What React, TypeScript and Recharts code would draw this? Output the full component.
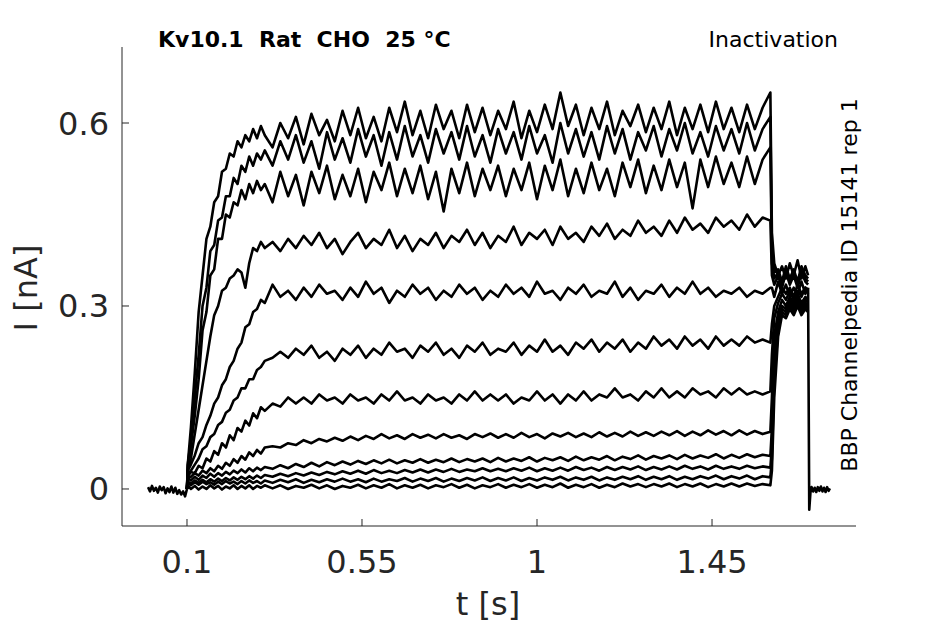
import { LineChart, Line, XAxis, YAxis } from 'recharts';

// time grid of the voltage step (s)
const T_STEP = [
  0.1, 0.102, 0.11, 0.12, 0.13, 0.14, 0.15, 0.16, 0.17, 0.18, 0.19, 0.2, 0.21, 0.22, 0.23, 0.24, 0.25, 0.26, 0.27, 0.28, 0.29, 0.3,
  0.32, 0.34, 0.36, 0.38, 0.4, 0.42, 0.44, 0.46, 0.48, 0.5,
  0.52, 0.54, 0.56, 0.58, 0.6, 0.62, 0.64, 0.66, 0.68, 0.7,
  0.72, 0.74, 0.76, 0.78, 0.8, 0.82, 0.84, 0.86, 0.88, 0.9,
  0.92, 0.94, 0.96, 0.98, 1, 1.02, 1.04, 1.06, 1.08, 1.1,
  1.12, 1.14, 1.16, 1.18, 1.2, 1.22, 1.24, 1.26, 1.28, 1.3,
  1.32, 1.34, 1.36, 1.38, 1.4, 1.42, 1.44, 1.46, 1.48, 1.5,
  1.52, 1.54, 1.56, 1.58, 1.6,
  1.604, 1.61, 1.62, 1.63, 1.64, 1.65, 1.66, 1.67, 1.68, 1.69, 1.697,
];

// holding baseline before the step
const T_PRE = [0, 0.005, 0.01, 0.015, 0.02, 0.025, 0.03, 0.035, 0.04, 0.045, 0.05, 0.055, 0.06, 0.065, 0.07, 0.075, 0.08, 0.085, 0.09, 0.095, 0.1];
const I_PRE = [0.003, -0.004, 0.005, -0.003, 0.002, -0.006, 0.004, -0.002, 0.003, -0.007, 0.001, -0.005, 0.004, -0.006, 0.002, -0.008, -0.002, -0.009, -0.004, -0.012, 0.0];

// after the tail pulse
const T_POST = [1.697, 1.7, 1.703, 1.706, 1.71, 1.714, 1.718, 1.722, 1.726, 1.73, 1.734, 1.738, 1.742, 1.746, 1.75, 1.753];
const I_POST = [0.33, -0.034, -0.006, 0.003, -0.004, 0.002, -0.005, 0.003, -0.003, 0.004, -0.004, 0.002, -0.005, 0.003, -0.003, 0.001];

// currents (nA), one array per sweep, same length as T_STEP
const TRACE_1 = [
  0.0, 0.04, 0.10, 0.19, 0.29, 0.35, 0.41, 0.43, 0.47, 0.48, 0.52, 0.525, 0.55, 0.545, 0.57, 0.56, 0.58, 0.57, 0.59, 0.575, 0.595, 0.58,
  0.56, 0.60, 0.575, 0.61, 0.565, 0.615, 0.58, 0.605, 0.57, 0.62,
  0.58, 0.625, 0.575, 0.61, 0.57, 0.625, 0.585, 0.635, 0.58, 0.62,
  0.575, 0.63, 0.59, 0.62, 0.575, 0.63, 0.585, 0.625, 0.58, 0.62,
  0.59, 0.635, 0.575, 0.62, 0.585, 0.63, 0.59, 0.65, 0.595, 0.63,
  0.58, 0.625, 0.59, 0.635, 0.58, 0.62, 0.595, 0.63, 0.585, 0.625,
  0.59, 0.635, 0.58, 0.625, 0.59, 0.63, 0.585, 0.635, 0.59, 0.625,
  0.585, 0.63, 0.59, 0.625, 0.65,
  0.42, 0.37, 0.35, 0.365, 0.345, 0.37, 0.35, 0.375, 0.345, 0.365, 0.35,
];
const TRACE_2 = [
  0.0, 0.04, 0.08, 0.15, 0.22, 0.30, 0.33, 0.39, 0.40, 0.44, 0.445, 0.48, 0.48, 0.51, 0.50, 0.53, 0.52, 0.545, 0.53, 0.55, 0.54, 0.555,
  0.53, 0.57, 0.54, 0.58, 0.535, 0.57, 0.525, 0.585, 0.54, 0.575,
  0.535, 0.59, 0.545, 0.58, 0.53, 0.585, 0.54, 0.595, 0.545, 0.58,
  0.535, 0.59, 0.55, 0.585, 0.54, 0.595, 0.545, 0.58, 0.535, 0.59,
  0.55, 0.585, 0.54, 0.595, 0.55, 0.58, 0.535, 0.6, 0.55, 0.59,
  0.545, 0.585, 0.54, 0.595, 0.55, 0.59, 0.54, 0.585, 0.555, 0.595,
  0.545, 0.59, 0.555, 0.6, 0.55, 0.585, 0.545, 0.595, 0.555, 0.59,
  0.55, 0.6, 0.555, 0.59, 0.61,
  0.39, 0.355, 0.36, 0.34, 0.365, 0.345, 0.36, 0.34, 0.365, 0.35, 0.345,
];
const TRACE_3 = [
  0.0, 0.035, 0.07, 0.12, 0.18, 0.26, 0.29, 0.35, 0.36, 0.41, 0.41, 0.45, 0.445, 0.47, 0.465, 0.49, 0.475, 0.5, 0.485, 0.505, 0.49, 0.5,
  0.47, 0.52, 0.48, 0.515, 0.465, 0.52, 0.485, 0.53, 0.475, 0.515,
  0.48, 0.525, 0.47, 0.52, 0.49, 0.535, 0.48, 0.525, 0.485, 0.53,
  0.475, 0.52, 0.455, 0.525, 0.485, 0.535, 0.48, 0.525, 0.49, 0.53,
  0.48, 0.525, 0.49, 0.535, 0.475, 0.53, 0.49, 0.54, 0.48, 0.525,
  0.485, 0.535, 0.49, 0.525, 0.48, 0.535, 0.495, 0.54, 0.485, 0.53,
  0.49, 0.54, 0.495, 0.535, 0.46, 0.54, 0.495, 0.545, 0.5, 0.535,
  0.495, 0.545, 0.5, 0.54, 0.56,
  0.37, 0.345, 0.355, 0.335, 0.36, 0.34, 0.355, 0.335, 0.36, 0.345, 0.34,
];
const TRACE_4 = [
  0.0, 0.03, 0.05, 0.09, 0.13, 0.17, 0.21, 0.25, 0.285, 0.30, 0.325, 0.33, 0.345, 0.35, 0.36, 0.355, 0.33, 0.37, 0.395, 0.39, 0.405, 0.395,
  0.405, 0.39, 0.41, 0.395, 0.415, 0.40, 0.42, 0.395, 0.41, 0.385,
  0.405, 0.42, 0.395, 0.41, 0.4, 0.425, 0.395, 0.415, 0.39, 0.41,
  0.4, 0.42, 0.395, 0.415, 0.405, 0.425, 0.4, 0.42, 0.395, 0.415,
  0.405, 0.43, 0.4, 0.42, 0.41, 0.425, 0.4, 0.43, 0.41, 0.42,
  0.405, 0.43, 0.415, 0.435, 0.41, 0.425, 0.415, 0.44, 0.42, 0.43,
  0.415, 0.44, 0.42, 0.445, 0.425, 0.435, 0.42, 0.445, 0.43, 0.44,
  0.425, 0.45, 0.43, 0.445, 0.44,
  0.35, 0.335, 0.35, 0.33, 0.355, 0.335, 0.35, 0.33, 0.355, 0.34, 0.335,
];
const TRACE_5 = [
  0.0, 0.03, 0.04, 0.055, 0.075, 0.085, 0.105, 0.12, 0.14, 0.15, 0.17, 0.18, 0.2, 0.21, 0.23, 0.24, 0.265, 0.27, 0.29, 0.295, 0.31, 0.305,
  0.335, 0.315, 0.325, 0.31, 0.33, 0.315, 0.335, 0.32, 0.325, 0.31,
  0.33, 0.315, 0.34, 0.32, 0.33, 0.305, 0.325, 0.315, 0.335, 0.32,
  0.33, 0.31, 0.325, 0.315, 0.335, 0.32, 0.33, 0.31, 0.325, 0.315,
  0.335, 0.32, 0.33, 0.315, 0.34, 0.32, 0.325, 0.31, 0.33, 0.32,
  0.335, 0.315, 0.325, 0.32, 0.34, 0.315, 0.33, 0.31, 0.325, 0.32,
  0.335, 0.315, 0.33, 0.32, 0.34, 0.32, 0.33, 0.315, 0.325, 0.32,
  0.33, 0.315, 0.325, 0.32, 0.33,
  0.33, 0.315, 0.34, 0.32, 0.335, 0.315, 0.33, 0.32, 0.34, 0.32, 0.33,
];
const TRACE_6 = [
  0.0, 0.025, 0.03, 0.04, 0.05, 0.065, 0.07, 0.085, 0.09, 0.105, 0.11, 0.125, 0.13, 0.145, 0.15, 0.165, 0.165, 0.18, 0.18, 0.195, 0.2, 0.21,
  0.215, 0.225, 0.215, 0.23, 0.22, 0.235, 0.215, 0.225, 0.21, 0.23,
  0.22, 0.235, 0.215, 0.23, 0.22, 0.24, 0.225, 0.23, 0.215, 0.235,
  0.225, 0.24, 0.22, 0.23, 0.215, 0.235, 0.225, 0.24, 0.22, 0.23,
  0.225, 0.24, 0.22, 0.235, 0.225, 0.245, 0.225, 0.235, 0.22, 0.24,
  0.23, 0.245, 0.225, 0.24, 0.23, 0.245, 0.225, 0.24, 0.23, 0.25,
  0.235, 0.245, 0.23, 0.25, 0.235, 0.245, 0.23, 0.25, 0.235, 0.245,
  0.235, 0.25, 0.24, 0.245, 0.24,
  0.27, 0.3, 0.315, 0.33, 0.32, 0.33, 0.315, 0.335, 0.32, 0.33, 0.325,
];
const TRACE_7 = [
  0.0, 0.02, 0.028, 0.026, 0.038, 0.034, 0.05, 0.045, 0.062, 0.056, 0.075, 0.068, 0.088, 0.08, 0.1, 0.094, 0.112, 0.104, 0.124, 0.116, 0.134, 0.128,
  0.14, 0.135, 0.15, 0.14, 0.15, 0.14, 0.155, 0.145, 0.15, 0.14,
  0.155, 0.145, 0.15, 0.14, 0.155, 0.145, 0.16, 0.145, 0.15, 0.14,
  0.155, 0.145, 0.15, 0.14, 0.155, 0.145, 0.16, 0.145, 0.155, 0.145,
  0.155, 0.14, 0.15, 0.145, 0.16, 0.145, 0.155, 0.14, 0.155, 0.145,
  0.16, 0.145, 0.155, 0.15, 0.165, 0.15, 0.155, 0.145, 0.16, 0.15,
  0.165, 0.15, 0.16, 0.15, 0.165, 0.155, 0.16, 0.15, 0.165, 0.155,
  0.165, 0.155, 0.16, 0.155, 0.16,
  0.22, 0.28, 0.305, 0.32, 0.31, 0.325, 0.31, 0.325, 0.315, 0.33, 0.32,
];
const TRACE_8 = [
  0.0, 0.018, 0.02, 0.026, 0.022, 0.03, 0.026, 0.034, 0.029, 0.038, 0.033, 0.043, 0.038, 0.049, 0.043, 0.054, 0.048, 0.06, 0.054, 0.064, 0.058, 0.068,
  0.07, 0.068, 0.075, 0.072, 0.08, 0.075, 0.082, 0.078, 0.084, 0.079,
  0.086, 0.08, 0.087, 0.082, 0.09, 0.083, 0.088, 0.082, 0.09, 0.084,
  0.089, 0.083, 0.09, 0.084, 0.088, 0.082, 0.09, 0.085, 0.091, 0.084,
  0.09, 0.084, 0.092, 0.085, 0.09, 0.083, 0.091, 0.086, 0.092, 0.085,
  0.091, 0.085, 0.093, 0.086, 0.092, 0.086, 0.094, 0.087, 0.093, 0.087,
  0.094, 0.088, 0.095, 0.087, 0.094, 0.088, 0.096, 0.089, 0.095, 0.088,
  0.096, 0.089, 0.095, 0.09, 0.094,
  0.15, 0.25, 0.29, 0.31, 0.3, 0.315, 0.305, 0.32, 0.305, 0.315, 0.31,
];
const TRACE_9 = [
  0.0, 0.018, 0.014, 0.02, 0.015, 0.022, 0.018, 0.025, 0.02, 0.026, 0.022, 0.028, 0.024, 0.03, 0.026, 0.032, 0.027, 0.034, 0.029, 0.035, 0.031, 0.036,
  0.033, 0.039, 0.034, 0.041, 0.036, 0.043, 0.037, 0.044, 0.039, 0.045,
  0.04, 0.046, 0.041, 0.047, 0.042, 0.048, 0.042, 0.047, 0.043, 0.049,
  0.043, 0.048, 0.044, 0.05, 0.044, 0.049, 0.045, 0.05, 0.044, 0.051,
  0.045, 0.05, 0.046, 0.052, 0.045, 0.051, 0.047, 0.052, 0.046, 0.053,
  0.047, 0.052, 0.048, 0.054, 0.047, 0.053, 0.049, 0.055, 0.048, 0.054,
  0.05, 0.055, 0.049, 0.056, 0.05, 0.055, 0.051, 0.057, 0.05, 0.056,
  0.051, 0.057, 0.052, 0.056, 0.054,
  0.1, 0.22, 0.28, 0.3, 0.295, 0.31, 0.3, 0.315, 0.3, 0.31, 0.305,
];
const TRACE_10 = [
  0.0, 0.012, 0.009, 0.014, 0.01, 0.015, 0.011, 0.016, 0.012, 0.017, 0.013, 0.018, 0.014, 0.019, 0.015, 0.02, 0.016, 0.021, 0.017, 0.022, 0.018, 0.023,
  0.02, 0.025, 0.021, 0.026, 0.022, 0.027, 0.023, 0.028, 0.024, 0.029,
  0.025, 0.03, 0.025, 0.031, 0.026, 0.03, 0.026, 0.031, 0.027, 0.032,
  0.027, 0.032, 0.028, 0.033, 0.028, 0.032, 0.029, 0.034, 0.029, 0.033,
  0.029, 0.034, 0.03, 0.035, 0.029, 0.034, 0.03, 0.035, 0.03, 0.036,
  0.031, 0.035, 0.03, 0.036, 0.031, 0.036, 0.032, 0.037, 0.031, 0.036,
  0.032, 0.037, 0.032, 0.038, 0.033, 0.037, 0.032, 0.038, 0.033, 0.037,
  0.033, 0.038, 0.034, 0.037, 0.035,
  0.07, 0.2, 0.27, 0.295, 0.29, 0.305, 0.295, 0.31, 0.295, 0.305, 0.3,
];
const TRACE_11 = [
  0.0, 0.01, 0.006, 0.011, 0.007, 0.012, 0.008, 0.011, 0.007, 0.012, 0.008, 0.013, 0.009, 0.012, 0.008, 0.013, 0.009, 0.014, 0.01, 0.013, 0.009, 0.014,
  0.01, 0.015, 0.011, 0.016, 0.01, 0.015, 0.011, 0.016, 0.012, 0.017,
  0.012, 0.016, 0.011, 0.017, 0.012, 0.016, 0.013, 0.018, 0.012, 0.017,
  0.013, 0.018, 0.012, 0.017, 0.013, 0.018, 0.014, 0.019, 0.013, 0.018,
  0.014, 0.019, 0.013, 0.018, 0.014, 0.019, 0.015, 0.02, 0.014, 0.019,
  0.015, 0.02, 0.014, 0.019, 0.015, 0.02, 0.016, 0.021, 0.015, 0.02,
  0.016, 0.021, 0.015, 0.02, 0.016, 0.021, 0.017, 0.022, 0.016, 0.021,
  0.017, 0.022, 0.016, 0.021, 0.019,
  0.05, 0.18, 0.26, 0.29, 0.285, 0.3, 0.29, 0.305, 0.29, 0.3, 0.295,
];
const TRACE_12 = [
  0.0, 0.006, 0.0, 0.005, -0.001, 0.004, 0.0, 0.006, 0.001, 0.005, -0.001, 0.004, 0.001, 0.006, 0.0, 0.005, 0.001, 0.006, 0.0, 0.005, 0.002, 0.006,
  0.001, 0.006, 0.0, 0.005, 0.002, 0.007, 0.001, 0.006, 0.0, 0.005,
  0.002, 0.007, 0.001, 0.006, 0.002, 0.008, 0.001, 0.006, 0.002, 0.007,
  0.001, 0.006, 0.003, 0.008, 0.002, 0.007, 0.001, 0.006, 0.003, 0.008,
  0.002, 0.007, 0.003, 0.008, 0.002, 0.007, 0.003, 0.009, 0.002, 0.007,
  0.003, 0.008, 0.002, 0.007, 0.003, 0.009, 0.004, 0.008, 0.003, 0.008,
  0.004, 0.009, 0.003, 0.008, 0.004, 0.009, 0.003, 0.008, 0.004, 0.009,
  0.004, 0.009, 0.005, 0.008, 0.006,
  0.03, 0.15, 0.25, 0.285, 0.28, 0.295, 0.285, 0.3, 0.285, 0.295, 0.29,
];

const TRACES = [TRACE_1, TRACE_2, TRACE_3, TRACE_4, TRACE_5, TRACE_6, TRACE_7, TRACE_8, TRACE_9, TRACE_10, TRACE_11, TRACE_12];

const X_TICKS = [0.1, 0.55, 1, 1.45];
const X_TICK_LABELS = ['0.1', '0.55', '1', '1.45'];
const Y_TICKS = [0, 0.3, 0.6];
const Y_TICK_LABELS = ['0', '0.3', '0.6'];

const FONT = '"DejaVu Sans", sans-serif';
const AXIS = '#262626';

const toPoints = (ts: number[], vs: number[]) => ts.map((t, i) => ({ t, v: vs[i] }));

function XTick({ x, y, payload }: any) {
  const i = X_TICKS.indexOf(payload.value);
  return (
    <g>
      <line x1={x} y1={y} x2={x} y2={y - 7} stroke={AXIS} />
      <text x={x} y={y + 47} textAnchor="middle" fontSize={32} fontFamily={FONT} fill={AXIS}>
        {i >= 0 ? X_TICK_LABELS[i] : payload.value}
      </text>
    </g>
  );
}

function YTick({ x, y, payload }: any) {
  const i = Y_TICKS.indexOf(payload.value);
  return (
    <g>
      <line x1={x} y1={y} x2={x + 7} y2={y} stroke={AXIS} />
      <text x={x - 13} y={y + 11.5} textAnchor="end" fontSize={32} fontFamily={FONT} fill={AXIS}>
        {i >= 0 ? Y_TICK_LABELS[i] : payload.value}
      </text>
    </g>
  );
}

export default function App() {
  const line = {
    type: 'linear' as const,
    dataKey: 'v',
    stroke: '#000',
    strokeWidth: 2.6,
    strokeLinejoin: 'round' as const,
    dot: false,
    isAnimationActive: false,
  };
  return (
    <div style={{ position: 'absolute', left: 0, top: 0, width: 945, height: 624, background: '#fff' }}>
      <LineChart width={945} height={624} margin={{ top: 47, right: 89, bottom: 58, left: 62 }}>
        <XAxis
          dataKey="t"
          type="number"
          domain={[-0.0671, 1.8202]}
          allowDataOverflow
          ticks={X_TICKS}
          interval={0}
          height={40}
          tickSize={0}
          tickMargin={0}
          tick={<XTick />}
          axisLine={{ stroke: AXIS }}
        />
        <YAxis
          type="number"
          domain={[-0.0607, 0.7246]}
          allowDataOverflow
          ticks={Y_TICKS}
          interval={0}
          width={60}
          tickSize={0}
          tickMargin={0}
          tick={<YTick />}
          axisLine={{ stroke: AXIS }}
        />
        <Line {...line} data={toPoints(T_PRE, I_PRE)} />
        {TRACES.map((vs, k) => (
          <Line key={k} {...line} data={toPoints(T_STEP, vs)} />
        ))}
        <Line {...line} data={toPoints(T_POST, I_POST)} />
      </LineChart>
      <svg width={945} height={624} style={{ position: 'absolute', left: 0, top: 0, pointerEvents: 'none' }}>
        <text x={158} y={47} fontSize={22} fontWeight="bold" fontFamily={FONT} fill="#000" style={{ whiteSpace: 'pre' }}>
          {'Kv10.1  Rat  CHO  25 °C'}
        </text>
        <text x={838} y={47} textAnchor="end" fontSize={22} fontFamily={FONT} fill="#000">
          Inactivation
        </text>
        <text transform="translate(857,285) rotate(-90)" textAnchor="middle" fontSize={22} fontFamily={FONT} fill="#000">
          BBP Channelpedia ID 15141 rep 1
        </text>
        <text transform="translate(37,288) rotate(-90)" textAnchor="middle" fontSize={32} fontFamily={FONT} fill={AXIS}>
          I [nA]
        </text>
        <text x={488} y={615} textAnchor="middle" fontSize={32} fontFamily={FONT} fill={AXIS}>
          t [s]
        </text>
      </svg>
    </div>
  );
}
